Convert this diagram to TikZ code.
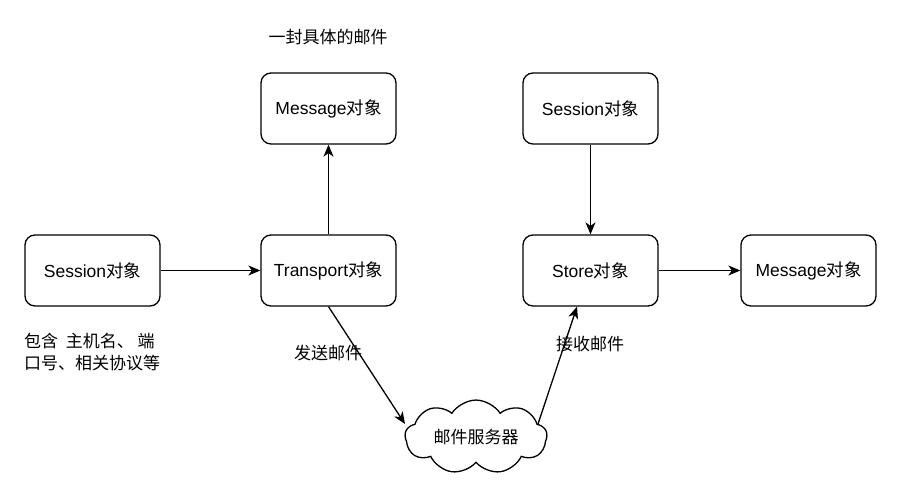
\documentclass[tikz,border=0pt]{standalone}
\usepackage{fontspec}
\setmainfont{Liberation Sans}
\newfontfamily\cjk{Noto Sans CJK SC}
\usetikzlibrary{arrows.meta,shapes.symbols}
\begin{document}
\begin{tikzpicture}[x=1pt,y=-1pt,
  box/.style={draw,line width=1.3pt,rounded corners=10pt,minimum width=135pt,minimum height=71pt,inner sep=0pt,font=\fontsize{17.5}{20}\selectfont},
  lbl/.style={font=\cjk\fontsize{17}{21.5}\selectfont,inner sep=0pt},
  arr/.style={line width=1.3pt,-{Stealth[length=12pt,width=10pt,inset=3.5pt]}},
  cloudbox/.style={draw,line width=1.3pt,cloud,cloud puffs=9,cloud puff arc=115,aspect=2.2,minimum width=142pt,minimum height=68pt,inner sep=0pt,font=\cjk\fontsize{17}{20}\selectfont}]
\useasboundingbox[fill=white] (0,0) rectangle (922,496);
\node[box] (s1) at (92.5,270.5) {Session{\cjk 对象}};
\node[box] (tr) at (328.5,270.5) {Transport{\cjk 对象}};
\node[box] (m1) at (328.5,108.5) {Message{\cjk 对象}};
\node[box] (s2) at (590.5,108.5) {Session{\cjk 对象}};
\node[box] (st) at (590.5,270.5) {Store{\cjk 对象}};
\node[box] (m2) at (808.5,270.5) {Message{\cjk 对象}};
\node[cloudbox] (cl) at (476,437) {邮件服务器};
\node[lbl] (t1) at (328,37) {一封具体的邮件};
\node[lbl,align=left,anchor=north west] (t2) at (24,333) {包含\ \ 主机名、\ 端\\口号、相关协议等};
\node[lbl] (t3) at (328,353) {发送邮件};
\node[lbl] (t4) at (590,344) {接收邮件};
\coordinate (a1) at (405,424);
\coordinate (a2) at (538,424);
\draw[arr] (s1) -- (tr);
\draw[arr] (tr) -- (m1);
\draw[arr] (s2) -- (st);
\draw[arr] (st) -- (m2);
\draw[arr] (tr.south) -- (a1);
\draw[arr] (a2) -- (st.south -| 577,0);
\end{tikzpicture}
\end{document}
